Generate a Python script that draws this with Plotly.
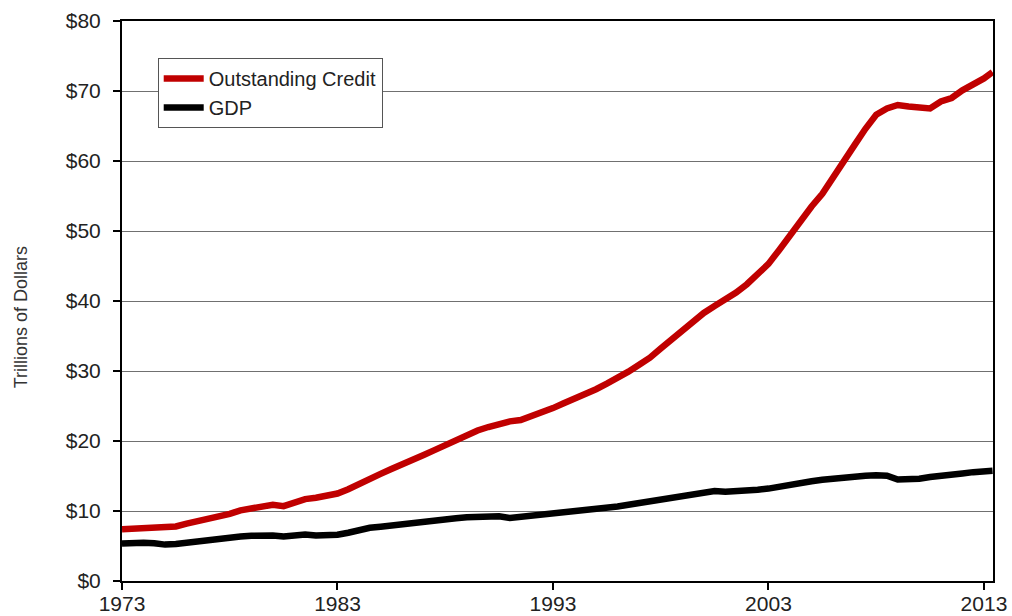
import plotly.graph_objects as go

# Outstanding credit vs. GDP, trillions of dollars, semi-annual readings
years = [
    1973.0, 1973.5, 1974.0, 1974.5, 1975.0, 1975.5, 1976.0, 1976.5, 1977.0, 1977.5,
    1978.0, 1978.5, 1979.0, 1979.5, 1980.0, 1980.5, 1981.0, 1981.5, 1982.0, 1982.5,
    1983.0, 1983.5, 1984.0, 1984.5, 1985.0, 1985.5, 1986.0, 1986.5, 1987.0, 1987.5,
    1988.0, 1988.5, 1989.0, 1989.5, 1990.0, 1990.5, 1991.0, 1991.5, 1992.0, 1992.5,
    1993.0, 1993.5, 1994.0, 1994.5, 1995.0, 1995.5, 1996.0, 1996.5, 1997.0, 1997.5,
    1998.0, 1998.5, 1999.0, 1999.5, 2000.0, 2000.5, 2001.0, 2001.5, 2002.0, 2002.5,
    2003.0, 2003.5, 2004.0, 2004.5, 2005.0, 2005.5, 2006.0, 2006.5, 2007.0, 2007.5,
    2008.0, 2008.5, 2009.0, 2009.5, 2010.0, 2010.5, 2011.0, 2011.5, 2012.0, 2012.5,
    2013.0, 2013.4,
]

credit = [
    7.4, 7.5, 7.6, 7.7, 7.7, 7.8, 8.2, 8.5, 8.8, 9.2,
    9.6, 10.1, 10.4, 10.7, 10.9, 10.7, 11.2, 11.7, 11.9, 12.1,
    12.5, 13.1, 13.9, 14.6, 15.3, 16.0, 16.6, 17.3, 18.0, 18.7,
    19.4, 20.1, 20.9, 21.5, 22.0, 22.5, 22.8, 23.0, 23.5, 24.1,
    24.7, 25.4, 26.0, 26.6, 27.4, 28.2, 29.0, 29.9, 30.9, 31.9,
    33.2, 34.5, 35.6, 37.2, 38.3, 39.3, 40.2, 41.2, 42.4, 43.8,
    45.3, 47.3, 49.5, 51.6, 53.5, 55.3, 57.5, 59.8, 62.3, 64.6,
    66.6, 67.5, 68.0, 67.8, 67.7, 67.5, 68.5, 69.0, 70.1, 70.9,
    71.8, 72.7,
]

gdp = [
    5.35, 5.45, 5.45, 5.4, 5.2, 5.3, 5.5, 5.6, 5.85, 6.1,
    6.2, 6.35, 6.45, 6.55, 6.5, 6.35, 6.6, 6.65, 6.5, 6.45,
    6.6, 6.9, 7.3, 7.6, 7.75, 7.95, 8.1, 8.25, 8.4, 8.6,
    8.8, 8.95, 9.1, 9.2, 9.3, 9.25, 9.0, 9.15, 9.3, 9.5,
    9.6, 9.75, 9.95, 10.15, 10.3, 10.45, 10.65, 10.9, 11.15, 11.4,
    11.65, 11.9, 12.15, 12.45, 12.75, 12.85, 12.75, 12.8, 12.9, 13.05,
    13.2, 13.5, 13.8, 14.05, 14.25, 14.45, 14.65, 14.8, 14.9, 15.05,
    15.1, 15.05, 14.5, 14.45, 14.6, 14.85, 14.95, 15.1, 15.35, 15.55,
    15.65, 15.75,
]

x_ticks = [1973, 1983, 1993, 2003, 2013]
y_ticks = [0, 10, 20, 30, 40, 50, 60, 70, 80]
y_labels = ["$%d" % v for v in y_ticks]

fig = go.Figure()
fig.add_trace(go.Scatter(x=years, y=credit, mode="lines", name="Outstanding Credit",
                         line=dict(color="#c00000", width=6.5)))
fig.add_trace(go.Scatter(x=years, y=gdp, mode="lines", name="GDP",
                         line=dict(color="#000000", width=6.5)))

tick_font = dict(family="Liberation Sans", size=21, color="#222222")

fig.update_layout(
    width=1012, height=616,
    margin=dict(l=122, r=19, t=21, b=35),
    paper_bgcolor="white", plot_bgcolor="white",
    showlegend=True,
    legend=dict(
        x=0.041, y=0.934, xanchor="left", yanchor="top",
        bgcolor="white", bordercolor="#555555", borderwidth=1,
        font=dict(family="Liberation Sans", size=20, color="#222222"),
        itemwidth=40,
    ),
    xaxis=dict(
        range=[1973, 2013.42], tickvals=x_ticks, ticktext=[str(t) for t in x_ticks],
        showgrid=False, zeroline=False, automargin=False,
        showline=True, linecolor="black", linewidth=2, mirror=True,
        ticks="outside", ticklen=7, tickwidth=2, tickcolor="black",
        tickfont=tick_font, ticklabelstandoff=-4,
    ),
    yaxis=dict(
        range=[0, 80], tickvals=y_ticks, ticktext=y_labels,
        showgrid=True, gridcolor="#707070", gridwidth=1, zeroline=False,
        automargin=False,
        showline=True, linecolor="black", linewidth=2, mirror=True,
        ticks="outside", ticklen=7, tickwidth=2, tickcolor="black",
        tickfont=tick_font, ticklabelstandoff=8,
    ),
    annotations=[dict(
        text="Trillions of Dollars", textangle=-90,
        xref="paper", yref="paper", x=-0.1165, y=0.47,
        xanchor="center", yanchor="middle", showarrow=False,
        font=dict(family="Liberation Sans", size=18, color="#333333"),
    )],
)

fig.write_html("out.html")
